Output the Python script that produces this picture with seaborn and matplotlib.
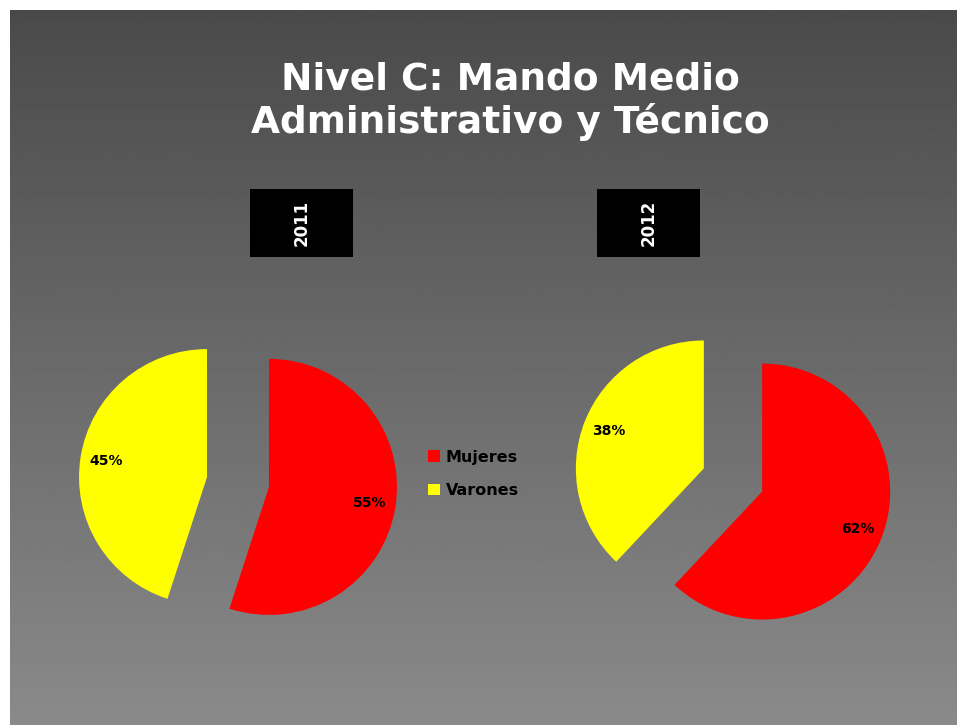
import numpy as np
import matplotlib
matplotlib.use("Agg")
import matplotlib.pyplot as plt
import seaborn as sns

# datos del grafico
titulo = "Nivel C: Mando Medio\nAdministrativo y Técnico"
categorias = ["Mujeres", "Varones"]
anios = ["2011", "2012"]
mujeres = [55, 62]
varones = [45, 38]

sns.set_theme(style="white")
plt.rcParams['font.family'] = ['DejaVu Sans']
colores = sns.color_palette(["#ff0000", "#ffff00"])

W, H = 957, 725
fig = plt.figure(figsize=(W / 100, H / 100), dpi=100, facecolor="white")


def fx(px):
    return px / W


def fy(py):
    return 1 - py / H


# fondo gris con degradado
bg = fig.add_axes([fx(10), 0, 1 - fx(10), fy(10)])
grad = np.linspace(74, 138, 256).reshape(-1, 1) / 255.0
bg.imshow(np.repeat(grad, 2, axis=1), cmap="gray", vmin=0, vmax=1, aspect="auto",
          extent=[0, 1, 0, 1])
bg.set_axis_off()

fig.text(fx(510), fy(101), titulo, ha="center", va="center", color="white",
         fontsize=27, fontweight="bold", linespacing=1.2)

# cajas negras con los anios
cajas_x = [250, 597]
for anio, x0 in zip(anios, cajas_x):
    bx = fig.add_axes([fx(x0), fy(257), fx(103), (257 - 189) / H])
    bx.set_facecolor("black")
    bx.set_xticks([])
    bx.set_yticks([])
    for s in bx.spines.values():
        s.set_visible(False)
    bx.text(0.5, 0.5, anio, rotation=90, ha="center", va="center", color="white",
            fontsize=12, fontweight="bold", transform=bx.transAxes)

# tortas
centros = [(238, 482), (733, 480)]
r = 128
wedges = None
for i, (cx, cy) in enumerate(centros):
    half = 1.5 * r
    ax = fig.add_axes([fx(cx - half), fy(cy + half), 2 * half / W, 2 * half / H])
    ax.set_axis_off()
    w, t, at = ax.pie([mujeres[i], varones[i]], colors=colores, startangle=90,
                      counterclock=False, explode=[0.245, 0.245],
                      autopct="%.0f%%", pctdistance=0.8,
                      wedgeprops=dict(linewidth=0),
                      textprops=dict(color="black", fontsize=10, fontweight="bold"))
    ax.set_xlim(-1.5, 1.5)
    ax.set_ylim(-1.5, 1.5)
    ax.set_aspect("equal")
    if wedges is None:
        wedges = w

fig.legend(wedges, categorias, loc="center left", bbox_to_anchor=(fx(414), fy(474)),
           frameon=False, handlelength=0.75, handleheight=0.75, handletextpad=0.35,
           labelspacing=1.15, prop=dict(size=11.5, weight="semibold"), labelcolor="black")

fig.savefig("out.png", dpi=100, facecolor="white")
